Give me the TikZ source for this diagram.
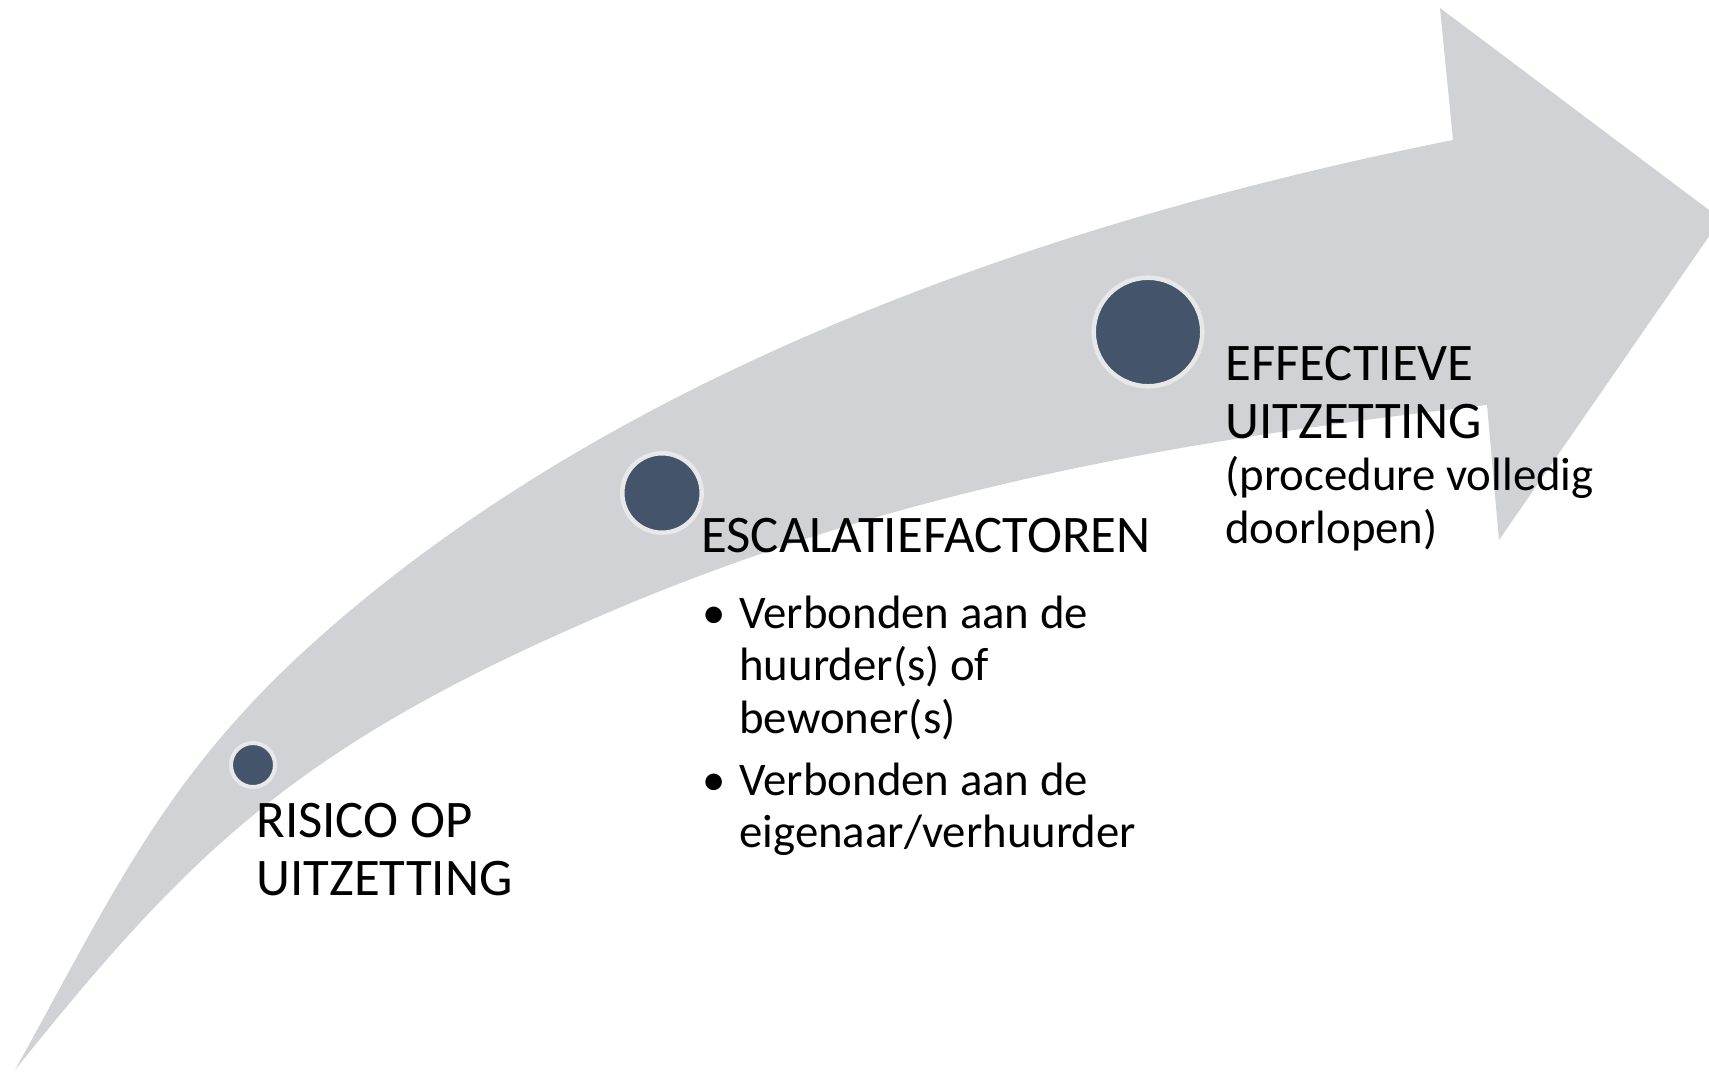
\documentclass[tikz,border=0pt]{standalone}
\usepackage{fontspec}
\setmainfont{Carlito}
\definecolor{bandgray}{RGB}{208,210,214}
\definecolor{dotblue}{RGB}{68,84,106}
\definecolor{ringgray}{RGB}{232,232,232}
\newcommand\headfont{\fontsize{26.4pt}{29pt}\selectfont}
\newcommand\bodyfont{\fontsize{23.4pt}{26.25pt}\selectfont}
\tikzset{
  stepdot/.style={circle, fill=dotblue, draw=ringgray, inner sep=0pt},
  label text/.style={anchor=base west, inner sep=0pt, text=black},
}
\begin{document}
\begin{tikzpicture}[x=0.5pt,y=-0.5pt]
\useasboundingbox (0,0) rectangle (1709,1073);
\begin{scope}
\clip (0,0) rectangle (1709,1073);
\fill[bandgray] (15,1070) .. controls (112.2,895.2) and (164.4,776.8) .. (313,643)
  .. controls (573,408.8) and (963,238) .. (1453,140)
  -- (1440,8) -- (1721,219) -- (1499,540) -- (1487,405)
  .. controls (1187,440) and (903,485.6) .. (600,616)
  .. controls (297,746.4) and (190,851.6) .. (15,1070) -- cycle;
\end{scope}
\node[stepdot, minimum size=22pt, line width=2pt] (c1) at (253,765) {};
\node[stepdot, minimum size=39.75pt, line width=2.25pt] (c2) at (662,493) {};
\node[stepdot, minimum size=54.3pt, line width=2.25pt] (c3) at (1148,332) {};
\node[label text] (t1) at (256,837) {\parbox[t]{300pt}{\headfont RISICO OP\\UITZETTING}};
\node[label text] (t2) at (701,552) {\parbox[t]{300pt}{\headfont ESCALATIEFACTOREN}};
\node[label text] (t3) at (739,628) {\parbox[t]{260pt}{\bodyfont\leavevmode\llap{•\hspace{6.8pt}}Verbonden aan de\\huurder(s) of\\bewoner(s)\\[4.75pt]\llap{•\hspace{6.8pt}}Verbonden aan de\\eigenaar/verhuurder}};
\node[label text] (t4) at (1225,380) {\parbox[t]{260pt}{{\headfont EFFECTIEVE\\UITZETTING\par}{\bodyfont (procedure volledig\\doorlopen)\par}}};
\end{tikzpicture}
\end{document}
